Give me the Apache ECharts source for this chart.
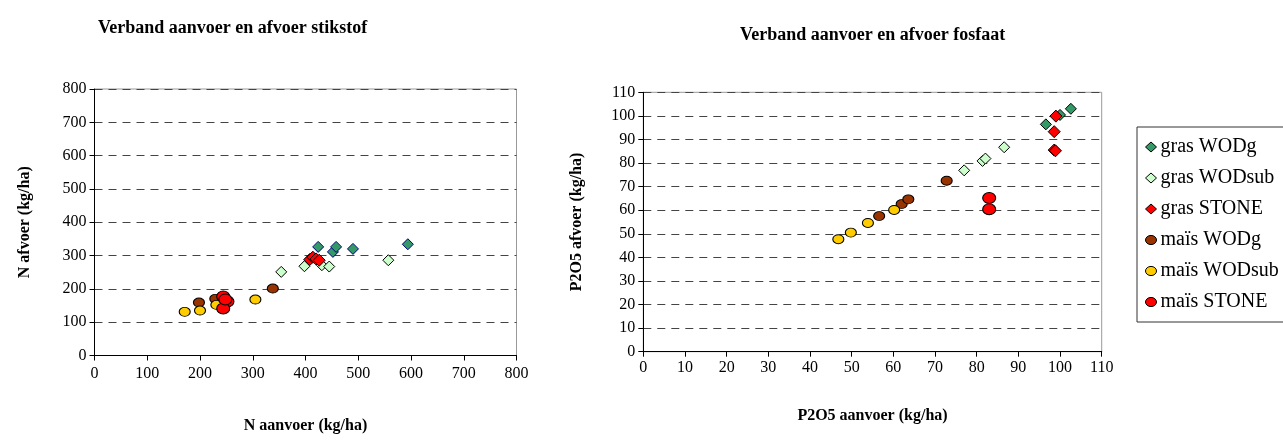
<!DOCTYPE html>
<html>
<head>
<meta charset="utf-8">
<script src="https://cdn.jsdelivr.net/npm/echarts@6/dist/echarts.min.js"></script>
<style>html,body{margin:0;padding:0;background:#fff}#c{width:1283px;height:441px}</style>
</head>
<body>
<div id="c"></div>
<script>
// ---- Data: N (stikstof) chart [aanvoer, afvoer] ----
const nGrasWODg    = [[424,326],[452,311],[458,326],[490,320],[594,334]];
const nGrasWODsub  = [[354,251],[398,268],[431,271],[445,267],[557,286]];
const nGrasSTONE   = [[408,288],[414,295],[420,290],[426,286]];
const nMaisWODg    = [[198,159],[229,170],[338,201]];
const nMaisWODsub  = [[171,131],[200,135],[231,152],[305,168]];
const nMaisSTONE   = [[244,177],[252,162],[244,141],[248,168]];
// ---- Data: P2O5 (fosfaat) chart [aanvoer, afvoer] ----
const pGrasWODg    = [[96.6,96.4],[100,100.4],[102.6,103.0]];
const pGrasWODsub  = [[77.0,76.9],[81.4,80.9],[82.1,81.9],[86.6,86.7]];
const pGrasSTONE   = [[99.0,99.9],[98.6,93.3],[98.6,85.5],[98.9,85.2]];
const pMaisWODg    = [[56.6,57.5],[62.0,62.6],[63.6,64.6],[72.8,72.5]];
const pMaisWODsub  = [[46.8,47.7],[49.8,50.5],[53.9,54.6],[60.2,60.1]];
const pMaisSTONE   = [[83.0,65.2],[83.0,60.4]];
// ---- Labels ----
const seriesNames = ['gras WODg','gras WODsub','gras STONE','maïs WODg','maïs WODsub','maïs STONE'];
const titles = ['Verband aanvoer en afvoer stikstof','Verband aanvoer en afvoer fosfaat'];
const axisNames = ['N aanvoer (kg/ha)','N afvoer (kg/ha)','P2O5 aanvoer (kg/ha)','P2O5 afvoer (kg/ha)'];

const FONT = '"Liberation Serif","Times New Roman",serif';
const ELLIPSE = 'path://M0,5a6,5 0 1,0 12,0a6,5 0 1,0 -12,0z';
const styles = [
  {symbol:'diamond', fill:'#339966', size:[11,11], border:'#000080'},
  {symbol:'diamond', fill:'#CCFFCC', size:[11,11], border:'#000'},
  {symbol:'diamond', fill:'#FF0000', size:[12,12], border:'#000'},
  {symbol:ELLIPSE,  fill:'#993300', size:[11,9], border:'#000'},
  {symbol:ELLIPSE,  fill:'#FFCC00', size:[11,9], border:'#000'},
  {symbol:ELLIPSE,  fill:'#FF0000', size:[13,11], border:'#000'}
];
const nData = [nGrasWODg,nGrasWODsub,nGrasSTONE,nMaisWODg,nMaisWODsub,nMaisSTONE];
const pData = [pGrasWODg,pGrasWODsub,pGrasSTONE,pMaisWODg,pMaisWODsub,pMaisSTONE];

function mk(i, data, idx, borderOverride){
  const s = styles[i];
  return {
    name: seriesNames[i], type:'scatter', xAxisIndex:idx, yAxisIndex:idx,
    data: data, symbol: s.symbol, symbolSize: s.size,
    itemStyle:{color:s.fill, borderColor: borderOverride || s.border, borderWidth:1, opacity:1},
    emphasis:{disabled:true}, animation:false
  };
}
const series = [];
nData.forEach((d,i)=>series.push(mk(i,d,0)));
pData.forEach((d,i)=>series.push(mk(i,d,1, '#000')));

function xAxis(idx,max,interval,name,gap,margin){
  return {gridIndex:idx, type:'value', min:0, max:max, interval:interval,
    name:name, nameLocation:'middle', nameGap:gap,
    nameTextStyle:{fontFamily:FONT, fontWeight:'bold', fontSize:16, color:'#000'},
    axisLine:{show:true, onZero:false, lineStyle:{color:'#000', width:1}},
    axisTick:{show:true, length:5, lineStyle:{color:'#000'}},
    axisLabel:{fontFamily:FONT, fontSize:16, color:'#000', margin:margin},
    splitLine:{show:false}};
}
function yAxis(idx,max,interval,name,gap){
  return {gridIndex:idx, type:'value', min:0, max:max, interval:interval,
    name:name, nameLocation:'middle', nameGap:gap, nameRotate:90,
    nameTextStyle:{fontFamily:FONT, fontWeight:'bold', fontSize:16, color:'#000'},
    axisLine:{show:true, onZero:false, lineStyle:{color:'#000', width:1}},
    axisTick:{show:true, length:5, lineStyle:{color:'#000'}},
    axisLabel:{fontFamily:FONT, fontSize:16, color:'#000', margin:8},
    splitLine:{show:true, lineStyle:{color:'#444', type:[8,6], width:1}}};
}

const chart = echarts.init(document.getElementById('c'), null, {renderer:'canvas'});
chart.setOption({
  backgroundColor:'#fff',
  animation:false,
  title:[
    {text:titles[0], left:93, top:14, textStyle:{fontFamily:FONT, fontWeight:'bold', fontSize:18, color:'#000'}},
    {text:titles[1], left:735, top:21, textStyle:{fontFamily:FONT, fontWeight:'bold', fontSize:18, color:'#000'}}
  ],
  grid:[
    {left:94.5, right:766.5, top:89, bottom:85.5, show:true, borderColor:'#999', borderWidth:1, backgroundColor:'transparent'},
    {left:643.3, right:181.3, top:92.3, bottom:89.3, show:true, borderColor:'#999', borderWidth:1, backgroundColor:'transparent'}
  ],
  xAxis:[xAxis(0,800,100,axisNames[0],62,10), xAxis(1,110,10,axisNames[2],56,8)],
  yAxis:[yAxis(0,800,100,axisNames[1],62), yAxis(1,110,10,axisNames[3],58)],
  legend:{
    data: seriesNames.map((n,i)=>({name:n, icon: styles[i].symbol==='diamond' ? 'diamond' : ELLIPSE,
      itemStyle:{borderColor:'#000', borderWidth:1}})),
    orient:'vertical', left:1137, top:127,
    padding:[10,60,10,8], itemGap:11, itemWidth:11, itemHeight:10,
    borderColor:'#333', borderWidth:1,
    textStyle:{fontFamily:FONT, fontSize:20, color:'#000', padding:[0,0,0,-1]},
    selectedMode:false
  },
  series: series
});
</script>
</body>
</html>
